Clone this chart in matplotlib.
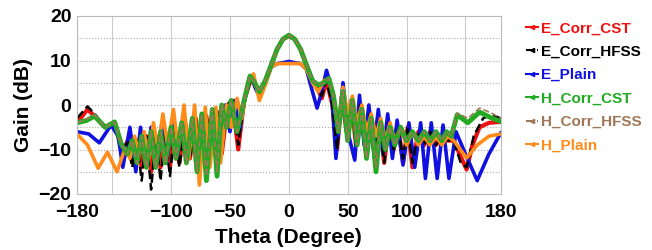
import matplotlib
matplotlib.use("Agg")
import matplotlib.pyplot as plt
from matplotlib.lines import Line2D

plt.rcParams['font.family'] = ['Liberation Sans', 'DejaVu Sans']
plt.rcParams['font.weight'] = 'bold'

# E_Corr_CST (theta, gain)
e_corr_cst_theta = [-180, -171, -165, -156, -148, -141, -137, -133, -129, -125, -121, -117, -113, -109, -105,
                    -101, -97, -93, -88, -84, -79, -75, -70, -66, -61, -57, -52, -48, -43, -38, -32, -28,
                    -24, -20, -15, -10, -5, 0, 5, 10, 15, 20, 24, 28, 32, 37, 41, 45, 49, 53, 57, 61, 65,
                    69, 73, 77, 81, 85, 89, 93, 97, 101, 105, 110, 115, 120, 125, 130, 135, 140, 145, 151,
                    156, 162, 170, 180]
e_corr_cst_gain = [-4, -1, -2.5, -5, -4, -11, -8, -13, -8, -14, -7, -15, -7, -14, -6,
                   -14, -5, -13, -4, -12, -3, -12, -2.5, -11, -1.5, -11, 0, 1, -10, 1, 6, 4,
                   2.5, 5, 9, 12.5, 14.8, 15.5, 14.8, 12.5, 9, 5.5, 4, 1.5, 5.5, 0, -10, 2, -6, 1, -9, 0, -10,
                   -2, -12, -3, -13, -4, -10, -5, -13, -5, -14, -6, -9, -6, -9, -7, -8, -8, -11, -14.5,
                   -9, -5, -4, -3.8]

e_corr_hfss_theta = [-180, -171, -165, -156, -148, -141, -137, -133, -129, -125, -121, -117, -113, -109, -105,
                     -101, -97, -93, -88, -84, -79, -75, -70, -66, -61, -57, -52, -48, -43, -38, -32, -28,
                     -24, -20, -15, -10, -5, 0, 5, 10, 15, 20, 24, 28, 32, 37, 41, 45, 49, 53, 57, 61, 65,
                     69, 73, 77, 81, 85, 89, 93, 97, 101, 105, 110, 115, 120, 125, 130, 135, 140, 146, 151,
                     157, 165, 172, 180]
e_corr_hfss_gain = [-3, -0.3, -2, -5, -4, -10, -8, -14, -8, -17, -7, -19, -7, -17, -6,
                    -16, -5, -14, -4, -12, -3, -12, -2.5, -11, -1.5, -11, 0, 1.6, -9, 1, 6, 4,
                    2.5, 5, 9, 12.5, 14.8, 15.5, 14.8, 12.5, 9, 5.5, 4, 2, 5.5, 0, -10, 2, -6, 1, -9, 0, -10,
                    -2, -12, -3, -13, -4, -10, -5, -12, -5, -13, -6, -9, -6, -9, -7, -8, -8, -13, -14,
                    -7, -3, -2.2, -3]

e_plain_theta = [-180, -170, -161, -151, -145, -141, -135, -130, -126, -121, -117, -112, -108, -104, -99,
                 -95, -90, -86, -81, -77, -72, -68, -63, -59, -54, -50, -46, -42, -37, -32, -28, -25,
                 -20, -15, -10, -5, 0, 5, 10, 15, 19, 24, 28, 32, 36, 40, 46, 51, 56, 60, 64, 68, 72,
                 76, 80, 84, 88, 92, 97, 102, 107, 112, 116, 121, 126, 131, 136, 142, 150, 160, 170, 180]
e_plain_gain = [-6, -6.5, -8.5, -4.5, -7, -14, -5, -15, -5, -14, -5, -13, -4.5, -13, -4,
                -12, -3.5, -11, -3, -10, -2, -9, -1, -8, 0, -6, 1, -6, 2, 6.5, 3.5, 2,
                5, 8.5, 9.3, 9.5, 9.8, 9.5, 9.3, 8, 4, -0.7, 3, 7.8, 4, -12, 5, -7, -12.4, 2.2, -9, 0, -10,
                -1, -11, -2, -12, -3.4, -13.5, -4, -14, -4, -16.5, -4, -16.5, -4.5, -16.5, -6, -11, -17, -11, -6.3]

h_corr_cst_theta = [-180, -172, -165, -156, -148, -142, -137, -133, -129, -125, -121, -117, -113, -109, -105,
                    -100, -96, -91, -87, -82, -78, -74, -70, -65, -61, -57, -53, -49, -44, -38, -33, -29,
                    -25, -20, -15, -10, -5, 0, 5, 10, 15, 20, 25, 30, 34, 38, 42, 46, 50, 54, 58, 62, 66,
                    70, 74, 78, 82, 86, 90, 95, 100, 105, 110, 115, 120, 125, 130, 134, 138, 143, 152, 162,
                    172, 180]
h_corr_cst_gain = [-4, -3.5, -2.5, -5, -3.8, -9, -11, -8, -13, -7, -14, -6, -14, -6, -13,
                   -5, -12, -4, -13, -3, -15, -2, -17, -1, -16, 0, -5, 1, -6, 1, 6.5, 5,
                   3, 5.5, 9, 12.5, 14.8, 15.7, 14.8, 12.5, 9, 5.5, 4.5, 5, 6, 2, -6, 3, -8, 1, -9, -1, -12,
                   -3, -15, -4, -10, -5, -9, -5, -8, -6, -8, -6, -8, -6, -8, -6, -7, -2.2, -4, -1.6,
                   -2.9, -3.7]

h_corr_hfss_theta = h_corr_cst_theta
h_corr_hfss_gain = [-4, -3.2, -2.3, -5, -3.8, -9, -11, -8, -13, -7, -14, -6, -14, -6, -13,
                    -5, -12, -4, -13, -3, -15, -2, -16, -1, -15, 0, -5, 1, -6, 1, 6.5, 5,
                    3, 5.5, 9, 12.5, 14.8, 15.7, 14.8, 12.5, 9, 5.5, 4.5, 5, 6, 2, -6, 3, -8, 1, -9, -1, -12,
                    -3, -14, -4, -10, -5, -9, -5, -8, -6, -8, -6, -8, -6, -8, -6, -7, -1.8, -3, -0.7,
                    -1.8, -3]

h_plain_theta = [-180, -171, -162, -154, -146, -139, -135, -131, -127, -123, -119, -115, -111, -107, -103,
                 -98, -94, -89, -85, -80, -76, -71, -67, -62, -58, -53, -49, -44, -40, -35, -30, -25,
                 -20, -15, -10, -5, 0, 5, 10, 15, 20, 25, 30, 34, 38, 42, 46, 50, 54, 58, 62, 66, 70,
                 74, 78, 82, 86, 90, 95, 100, 105, 110, 115, 120, 125, 130, 135, 140, 151, 160, 170, 180]
h_plain_gain = [-6.5, -9, -14.2, -10.6, -15, -9.7, -12, -7, -11, -6, -12, -4, -10, -2, -9,
                -1, -10, 0, -12, 0, -18, -0.5, -14, -0.5, -13, 0, -5, 1.5, -3, 5, 7, 1,
                4.5, 8.5, 9.3, 9.3, 9.3, 9.3, 9.3, 8, 5, 3, 5.5, 6, 2, -4, 4, -2, 2, -4, 0, -6, -2,
                -7, -3, -8, -4, -8, -5, -9, -6, -9, -7, -9, -7, -9, -7, -8, -11.9, -9, -7, -6.5]

fig = plt.figure(figsize=(6.52, 2.5), dpi=100)
ax = fig.add_axes([0.118, 0.224, 0.650, 0.712])

ax.plot(e_corr_cst_theta, e_corr_cst_gain, color='#ee1111', lw=3)
ax.plot(e_plain_theta, e_plain_gain, color='#1010e0', lw=2.6)
ax.plot(e_corr_hfss_theta, e_corr_hfss_gain, color='black', lw=1.8, ls='--')
ax.plot(h_plain_theta, h_plain_gain, color='#ff8c1a', lw=2.6)
ax.plot(h_corr_cst_theta, h_corr_cst_gain, color='#22aa22', lw=3.5)
ax.plot(h_corr_hfss_theta, h_corr_hfss_gain, color='#a07858', lw=1.2, ls='--')

ax.set_xlim(-180, 180)
ax.set_ylim(-20, 20)
ax.set_xticks([-180, -100, -50, 0, 50, 100, 180])
ax.set_yticks([-20, -10, 0, 10, 20])
for v in [-150, -100, -50, 0, 50, 100, 150]:
    ax.axvline(v, color='#cccccc', lw=0.8, zorder=0)
for v in [-15, -10, -5, 0, 5, 10, 15]:
    ax.axhline(v, color='#aaaaaa', lw=0.8, ls=':', zorder=0)
ax.tick_params(axis='x', length=0, labelsize=14, pad=7)
ax.tick_params(axis='y', length=0, labelsize=14, pad=4)
for s in ax.spines.values():
    s.set_color('#bbbbbb')
ax.set_xlabel('Theta (Degree)', fontsize=15, fontweight='bold', labelpad=5)
ax.set_ylabel('Gain (dB)', fontsize=15, fontweight='bold', labelpad=4)

# legend handles: short line with a small marker, as in the original
labels = ['E_Corr_CST', 'E_Corr_HFSS', 'E_Plain', 'H_Corr_CST', 'H_Corr_HFSS', 'H_Plain']
colors = ['#ee1111', 'black', '#1010e0', '#22aa22', '#a07858', '#ff8c1a']
styles = ['-', '--', '-', '-', '--', '-']
handles = [Line2D([], [], color=c, ls=s, lw=1.5, marker='<', markersize=3, markevery=[-1])
           for c, s in zip(colors, styles)]
leg = fig.legend(handles, labels, loc='upper left', bbox_to_anchor=(0.785, 0.97),
                 frameon=False, fontsize=11, handlelength=0.8, handletextpad=0.2,
                 labelspacing=0.62, labelcolor='linecolor')
for t in leg.get_texts():
    t.set_fontweight('bold')

fig.savefig('out.png', dpi=100)
